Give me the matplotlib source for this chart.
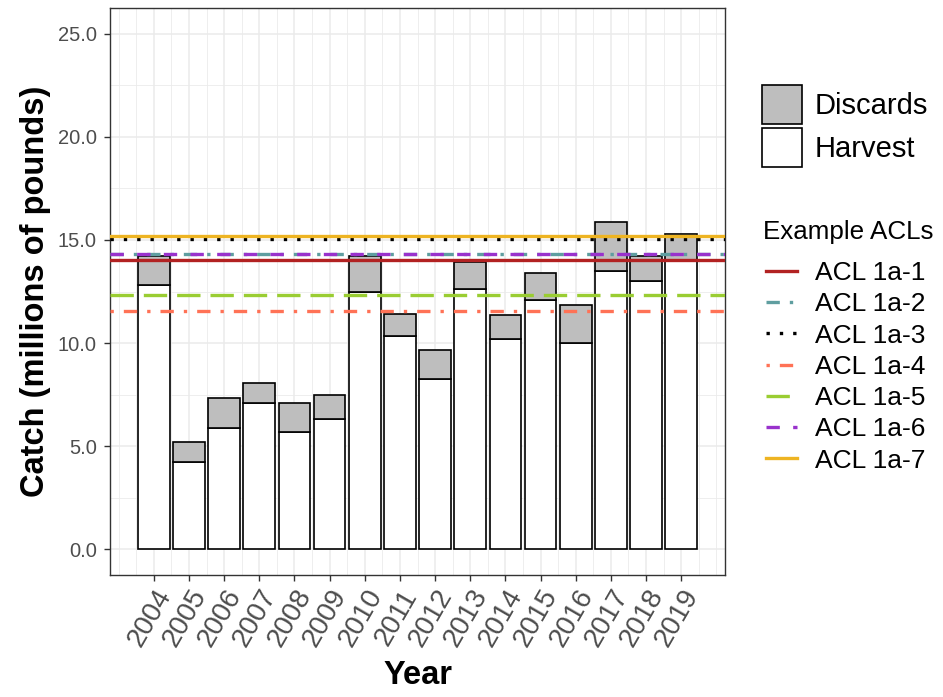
import matplotlib.pyplot as plt
from matplotlib.patches import Patch
from matplotlib.lines import Line2D
import numpy as np

plt.rcParams['font.family'] = ['Liberation Sans', 'DejaVu Sans']

years = list(range(2004, 2020))
harvest = [12.80, 4.24, 5.87, 7.08, 5.69, 6.30, 12.48, 10.33, 8.27, 12.64,
           10.22, 12.10, 9.98, 13.51, 12.99, 14.02]
discards = [1.43, 0.97, 1.46, 0.96, 1.40, 1.20, 1.75, 1.10, 1.39, 1.29,
            1.13, 1.29, 1.88, 2.38, 1.25, 1.29]

acl_names = ['ACL 1a-1', 'ACL 1a-2', 'ACL 1a-3', 'ACL 1a-4', 'ACL 1a-5', 'ACL 1a-6', 'ACL 1a-7']
acl_values = [14.05, 14.33, 15.04, 11.57, 12.33, 14.31, 15.17]
acl_colors = ['#B22222', '#5F9EA0', '#000000', '#FF7256', '#9ACD32', '#9932CC', '#EEB422']
acl_styles = ['-', (0, (4, 3, 1, 3)), (0, (1, 3)), (0, (1, 3, 4, 3)), (0, (7, 3)), (0, (4, 4)), '-']

fig = plt.figure(figsize=(9.43, 6.97), dpi=100)
ax = fig.add_axes([110 / 943, 1 - 575 / 697, 615 / 943, 567 / 697])

ax.bar(years, harvest, width=0.9, color='white', edgecolor='black', linewidth=1.2, zorder=2)
ax.bar(years, discards, bottom=harvest, width=0.9, color='#BEBEBE', edgecolor='black',
       linewidth=1.2, zorder=2)

for val, col, ls in zip(acl_values, acl_colors, acl_styles):
    ax.axhline(val, color=col, linestyle=ls, linewidth=2.4, zorder=3)

ax.set_xlim(2002.755, 2020.245)
ax.set_ylim(-1.25, 26.25)
ax.set_xticks(years)
ax.set_xticks(np.arange(2003, 2020.5, 0.5), minor=True)
ax.set_yticks(np.arange(0, 26, 5))
ax.set_yticks(np.arange(2.5, 25, 5), minor=True)
ax.set_yticklabels([f'{v:.1f}' for v in np.arange(0, 26, 5)])
ax.set_xticklabels([str(y) for y in years], rotation=60, ha='right', va='top',
                   rotation_mode='anchor')

ax.grid(True, which='major', color='#EBEBEB', linewidth=1.1)
ax.grid(True, which='minor', color='#EBEBEB', linewidth=0.6)
ax.set_axisbelow(True)
ax.tick_params(which='minor', length=0)
ax.tick_params(which='major', length=4, width=1, color='#333333', labelcolor='#4D4D4D')
ax.tick_params(axis='y', labelsize=14.5, pad=5.5)
ax.tick_params(axis='x', labelsize=20, pad=3)
for sp in ax.spines.values():
    sp.set_color('#333333')
    sp.set_linewidth(1.0)

ax.set_xlabel('Year', fontsize=23.5, fontweight='bold', labelpad=6)
ax.set_ylabel('Catch (millions of pounds)', fontsize=23.5, fontweight='bold', labelpad=5)

fill_handles = [Patch(facecolor='#BEBEBE', edgecolor='black', linewidth=1.2),
                Patch(facecolor='white', edgecolor='black', linewidth=1.2)]
leg1 = ax.legend(fill_handles, ['Discards', 'Harvest'], loc='upper left',
                 bbox_to_anchor=(762 / 943, 1 - 85 / 697), bbox_transform=fig.transFigure,
                 frameon=False, fontsize=21, handlelength=1.37, handleheight=1.68,
                 labelspacing=0.13, handletextpad=0.45, borderpad=0, borderaxespad=0)
ax.add_artist(leg1)

fig.text(763 / 943, 1 - 232 / 697, 'Example ACLs', fontsize=18.7, ha='left', va='center')

line_handles = [Line2D([0], [0], color=c, linestyle=s, linewidth=2.4)
                for c, s in zip(acl_colors, acl_styles)]
leg2 = ax.legend(line_handles, acl_names, loc='upper left',
                 bbox_to_anchor=(766 / 943, 1 - 261 / 697), bbox_transform=fig.transFigure,
                 frameon=False, fontsize=19, handlelength=1.17,
                 labelspacing=0.275, handletextpad=0.69, borderpad=0, borderaxespad=0)

fig.savefig('out.png', dpi=100)
